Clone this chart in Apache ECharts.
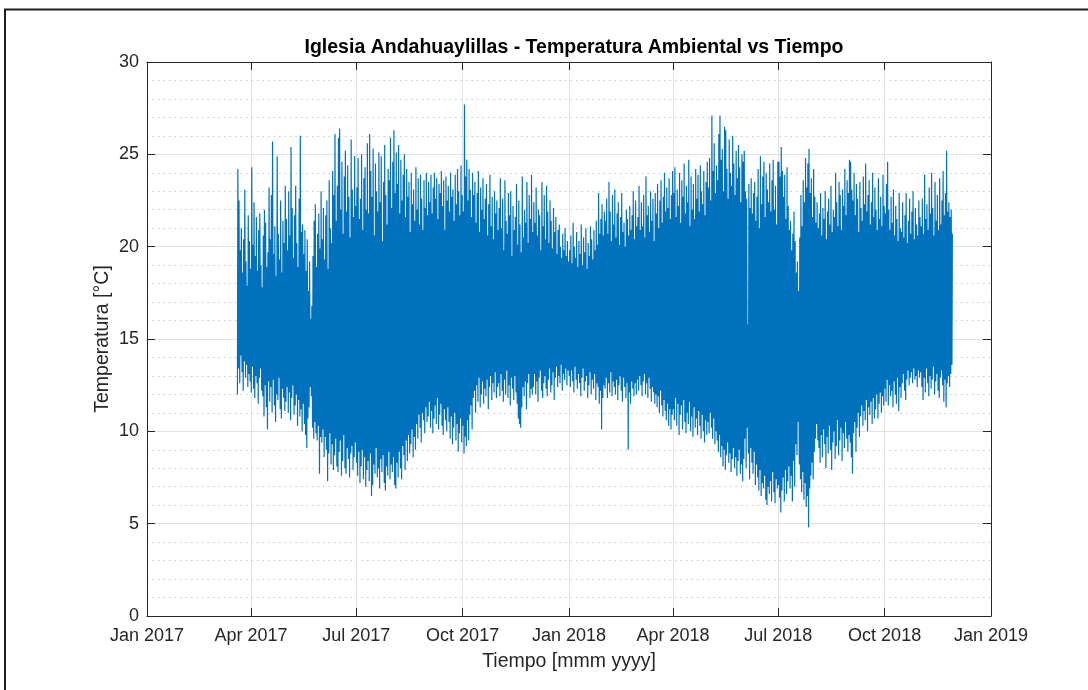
<!DOCTYPE html>
<html><head><meta charset="utf-8">
<script src="https://cdn.jsdelivr.net/npm/echarts@6/dist/echarts.min.js"></script>
<style>html,body{margin:0;padding:0;background:#fff}#c{width:1088px;height:690px}</style>
</head><body><div id="c"></div>
<script>
const titleText = 'Iglesia Andahuaylillas - Temperatura Ambiental vs Tiempo';
const xName = 'Tiempo [mmm yyyy]';
const yName = 'Temperatura [°C]';
const xTickDates = ['2017-01-01','2017-04-01','2017-07-01','2017-10-01','2018-01-01','2018-04-01','2018-07-01','2018-10-01','2019-01-01'];
const monthNames = ['Jan','Feb','Mar','Apr','May','Jun','Jul','Aug','Sep','Oct','Nov','Dec'];
const yTicks = [0,5,10,15,20,25,30];
const startDate = '2017-03-20';

// Daily maximum temperature (°C), 2017-03-20 .. 2017-12-31, one line per month
const tmax2017 = [
24.2,22.5,19.8,21.0,18.6,20.4,23.1,19.2,17.9,21.7,20.3,18.8,
24.3,20.1,22.4,19.5,21.6,18.7,20.9,21.8,19.0,17.8,20.6,22.0,21.3,18.9,19.7,23.2,20.4,22.8,25.7,19.6,21.1,18.4,24.9,20.7,19.3,22.5,18.6,21.4,20.2,23.3,
21.5,19.8,23.0,20.6,25.4,22.1,19.4,21.7,23.3,20.2,18.9,22.6,26.0,20.8,21.2,19.6,20.9,18.7,20.4,17.6,19.2,16.1,16.8,19.5,21.4,22.3,18.9,20.7,21.8,19.9,23.0,
20.4,22.1,19.3,21.7,22.5,18.8,23.6,21.0,20.2,24.1,22.8,26.1,21.4,23.3,25.9,26.4,22.0,24.6,20.7,23.8,25.2,21.9,24.4,22.7,20.5,25.8,23.1,21.6,24.9,22.2,
23.2,24.8,21.5,22.6,25.0,20.9,23.7,24.3,22.0,25.6,21.8,26.1,24.1,22.7,25.3,20.6,24.5,23.0,21.9,25.1,22.4,24.9,20.3,23.5,25.5,22.8,21.2,24.2,23.6,25.9,22.1,
24.6,26.3,22.9,25.1,23.4,25.5,21.8,24.7,22.5,23.9,25.0,21.6,24.2,22.7,23.5,20.8,24.0,22.3,23.1,21.4,24.3,22.0,23.7,21.2,23.9,22.6,20.9,23.6,22.1,24.0,21.7,
23.5,22.4,23.9,21.8,23.2,24.0,22.6,23.7,21.5,23.4,22.9,24.1,22.2,23.6,20.9,23.8,22.5,23.3,21.9,24.0,22.7,23.1,21.4,23.9,22.3,24.2,23.0,21.7,24.4,22.8,
21.9,27.7,23.8,24.7,22.5,24.2,23.1,21.6,24.0,22.8,23.5,21.3,22.9,24.1,20.8,23.2,22.0,23.7,21.5,22.6,23.4,20.6,22.3,23.9,21.1,22.7,20.4,23.0,21.8,22.5,20.9,
22.1,23.7,21.0,22.6,19.8,23.6,21.4,20.7,22.9,21.7,23.0,19.5,22.2,20.9,21.6,23.4,20.1,22.5,21.2,19.7,23.8,20.5,22.0,21.3,23.5,20.2,22.8,21.5,23.9,20.8,
22.4,21.3,23.2,20.6,22.0,21.7,19.8,23.5,21.1,22.8,20.4,23.3,21.9,20.2,22.5,21.4,19.9,22.1,20.8,21.6,19.6,20.9,21.2,20.0,19.4,20.7,19.8,21.0,19.5,20.3,19.2
];
// Daily minimum temperature (°C), 2017-03-20 .. 2017-12-31
const tmin2017 = [
12.0,13.4,12.6,14.1,13.2,12.2,13.8,12.9,13.6,12.4,13.1,12.7,
12.1,13.5,12.3,11.8,13.0,12.6,11.5,12.9,13.4,12.2,11.9,10.8,12.5,11.3,10.1,12.7,11.6,12.4,11.0,12.8,11.4,10.5,12.0,11.7,12.9,11.2,10.7,12.3,11.8,11.1,
11.6,12.4,11.0,12.1,10.6,11.8,12.5,10.9,11.4,12.0,10.3,11.7,10.8,11.2,10.0,11.5,10.4,9.8,9.1,10.7,11.3,12.4,11.9,10.2,9.6,10.5,9.9,9.5,10.3,7.7,9.7,
9.4,10.1,8.6,9.7,9.0,7.3,8.8,9.9,8.2,9.3,7.9,8.7,9.6,8.1,7.8,8.9,9.5,7.6,8.4,9.8,8.0,7.7,9.1,8.5,7.5,8.8,9.2,7.9,8.6,9.4,
8.3,7.6,8.9,7.2,8.1,9.0,7.4,8.6,7.0,7.9,8.4,7.3,8.8,6.5,7.1,8.2,7.7,9.1,7.5,8.0,6.9,8.5,7.8,8.7,7.2,6.8,8.1,7.6,8.9,7.4,8.2,
7.8,8.6,7.1,6.9,8.3,7.5,8.9,8.0,7.4,9.2,8.7,7.9,9.5,8.4,9.8,8.8,9.3,10.1,8.6,9.7,9.0,10.4,9.6,10.9,10.2,9.4,11.0,10.6,9.9,11.3,10.5,
10.8,11.6,10.2,11.1,9.9,10.7,11.4,10.4,11.8,10.1,10.9,11.5,10.3,9.8,11.2,10.6,10.0,11.3,10.5,9.6,10.8,9.3,10.2,11.0,9.5,10.4,8.9,9.9,10.7,9.4,
10.3,8.8,9.7,9.2,10.6,9.5,10.9,11.4,10.1,11.8,12.2,11.0,12.5,11.6,12.9,11.3,12.0,12.7,11.5,12.3,11.9,12.8,11.2,12.4,13.0,11.7,12.6,12.1,13.2,11.8,12.4,
12.6,11.9,13.1,12.2,11.6,12.8,12.0,13.3,11.8,12.5,11.4,12.9,12.3,11.7,13.0,12.1,11.5,10.7,10.4,10.2,11.3,12.4,11.9,12.7,11.2,12.6,13.1,11.8,12.3,12.0,
12.4,13.1,12.0,12.7,11.6,12.9,13.3,12.2,11.8,12.6,13.0,12.3,11.9,12.8,13.4,12.1,12.5,13.2,11.7,12.9,13.5,12.4,13.0,12.6,13.6,12.2,13.1,12.8,13.4,12.5,13.3
];
// Daily maximum temperature (°C), 2018-01-01 .. 2018-11-28
const tmax2018 = [
19.8,20.6,19.1,21.3,20.0,19.4,20.8,18.9,20.3,19.6,21.2,19.0,20.5,19.7,21.0,18.8,20.2,19.5,21.1,20.4,19.3,20.9,19.8,21.4,20.1,22.9,20.7,21.5,22.3,20.6,21.9,
21.4,22.6,20.7,23.5,21.9,20.3,22.8,21.2,23.1,20.5,21.8,22.4,20.1,21.6,22.9,20.8,21.3,20.0,22.0,21.5,20.6,22.2,20.9,21.7,23.0,20.4,22.5,21.1,
21.6,23.3,20.9,22.4,21.1,22.8,20.5,23.8,21.7,22.2,20.8,23.0,21.4,22.6,20.3,22.9,21.8,23.4,21.0,22.5,23.6,21.3,22.7,24.0,21.9,23.2,22.1,23.7,21.5,22.8,24.1,
22.9,24.3,21.6,23.1,22.2,24.0,21.3,23.6,22.7,24.5,21.8,23.3,22.4,24.7,21.1,23.8,22.0,23.4,21.5,24.2,22.6,23.9,21.9,24.4,23.0,22.3,24.1,21.7,23.5,24.6,
23.2,24.8,22.5,27.1,24.1,25.6,22.9,24.4,23.6,26.1,27.1,24.7,25.3,23.0,26.5,26.3,24.2,22.6,25.8,24.0,23.3,26.0,24.5,22.8,25.2,23.7,25.5,24.3,22.4,25.0,24.6,
25.2,23.0,22.6,15.8,23.4,22.1,23.7,21.8,22.9,23.5,21.4,22.7,24.2,21.0,24.9,22.3,23.8,24.6,21.6,24.0,23.1,22.4,24.5,21.9,23.6,24.7,22.0,23.3,21.2,24.6,
24.6,23.8,25.4,24.1,22.7,23.9,21.5,24.3,22.2,20.9,21.4,19.8,20.7,21.9,20.3,18.6,19.2,17.6,20.5,22.8,21.1,23.6,22.4,24.8,23.2,24.5,25.3,22.9,23.7,21.6,24.2,
22.7,21.3,22.4,21.0,21.8,22.9,20.6,22.1,21.5,23.0,20.4,21.9,22.6,21.2,23.3,20.8,22.0,21.6,24.0,22.4,21.1,23.5,22.8,20.9,23.1,22.2,24.2,21.7,23.6,22.9,24.7,
24.6,23.1,22.5,24.0,21.7,23.4,22.6,20.8,23.5,22.1,21.4,23.8,22.3,24.5,21.9,22.8,23.6,21.2,22.4,24.0,21.6,23.2,22.0,20.9,23.7,21.5,22.7,21.1,23.9,22.2,
21.8,23.4,24.6,22.0,20.9,22.7,21.3,23.1,20.6,22.2,21.5,20.3,22.9,21.0,20.8,22.4,20.5,21.7,22.9,20.2,21.4,22.6,20.7,21.9,23.0,20.4,22.1,21.2,20.6,22.5,21.6,
21.1,22.6,20.7,23.9,21.5,22.3,20.9,23.2,21.8,24.0,22.1,20.6,23.5,21.4,22.8,20.9,23.7,21.2,22.5,24.1,21.7,22.9,25.2,21.9,22.4,21.6,22.0,20.7
];
// Daily minimum temperature (°C), 2018-01-01 .. 2018-11-28
const tmin2018 = [
13.0,12.4,13.3,12.7,12.1,13.5,12.8,12.3,13.1,12.6,11.9,12.9,13.4,12.2,12.7,13.0,11.8,12.5,13.2,12.0,12.8,12.3,13.1,11.7,12.6,12.4,11.5,12.2,10.1,11.8,12.5,
12.3,12.9,11.8,12.6,12.1,13.2,11.9,12.7,12.4,12.0,12.8,11.7,12.5,13.0,12.2,11.6,12.9,12.4,11.8,12.6,9.0,12.1,11.5,12.7,12.3,11.9,12.6,12.0,
12.8,12.2,13.0,12.5,11.9,12.7,13.1,12.0,12.6,11.8,12.9,12.3,11.6,12.4,12.1,11.5,12.0,11.3,11.9,11.0,12.2,11.4,10.8,11.7,11.1,10.6,11.5,10.3,11.2,10.1,10.9,
11.2,10.6,11.8,10.3,11.5,9.8,10.9,11.4,10.1,11.7,10.5,9.9,11.0,10.4,11.6,10.0,10.8,9.7,11.3,10.2,10.7,9.8,11.1,10.3,9.6,10.9,10.0,9.4,10.6,9.8,
10.5,9.9,11.0,10.2,9.6,10.7,9.3,10.0,9.5,8.9,9.8,8.6,9.2,8.1,9.0,7.9,8.7,9.4,8.3,8.8,7.8,8.5,9.1,8.0,8.6,7.6,8.4,9.0,7.7,8.2,7.3,
8.5,9.6,8.0,10.2,8.8,7.4,9.1,8.3,7.7,8.9,7.1,8.2,7.5,6.8,7.9,6.5,7.2,6.9,7.6,6.3,6.0,7.0,6.6,7.3,6.2,7.8,6.7,6.1,7.4,6.9,
7.1,6.4,5.6,6.8,7.5,6.2,7.9,6.6,7.3,8.1,6.9,7.6,6.2,8.4,7.0,9.3,8.7,10.5,8.2,7.4,6.7,7.8,6.3,7.2,5.9,6.5,4.8,6.9,7.6,8.3,7.4,
8.9,9.6,10.4,9.5,9.1,8.3,9.8,8.6,10.1,9.3,8.0,9.7,8.8,10.3,9.0,7.9,9.4,10.0,8.5,9.2,10.6,8.7,9.5,10.2,8.4,9.9,9.1,10.5,9.6,8.9,9.8,
9.4,8.6,7.7,9.9,10.5,8.9,10.2,11.0,9.7,10.8,11.4,10.3,11.1,10.6,11.7,10.0,11.3,10.9,11.6,10.4,11.8,10.7,11.2,12.0,10.7,11.5,12.1,11.0,11.9,11.4,
12.3,11.6,12.8,11.4,12.5,11.9,12.2,11.3,12.7,12.0,11.5,12.9,11.1,12.4,11.8,12.6,13.1,12.2,11.7,12.8,13.3,12.5,12.9,13.2,12.6,13.4,12.8,13.0,12.4,13.3,12.9,
13.2,12.4,11.7,12.9,12.1,13.4,12.6,11.9,13.0,12.3,12.8,13.5,12.0,12.7,13.1,12.2,11.8,12.9,13.3,12.5,11.6,12.8,11.3,12.6,13.0,12.4,13.1,13.6
];

const tmax = tmax2017.concat(tmax2018);
const tmin = tmin2017.concat(tmin2018);
const HOUR = 3600000, DAY = 24 * HOUR;
const t0 = Date.parse(startDate + 'T00:00:00Z');
const seriesData = [];
for (let i = 0; i < tmax.length; i++) {
  seriesData.push([t0 + i * DAY + 5 * HOUR, tmin[i]]);
  seriesData.push([t0 + i * DAY + 14 * HOUR, tmax[i]]);
}
const xTicks = xTickDates.map(d => Date.parse(d + 'T00:00:00Z'));
const fmtDate = v => { const d = new Date(v); return monthNames[d.getUTCMonth()] + ' ' + d.getUTCFullYear(); };

const FONT = "'Liberation Sans', Arial, Helvetica, sans-serif";
const TXT = '#262626';
const AXC = '#262626';

const chart = echarts.init(document.getElementById('c'), null, {renderer: 'canvas'});
chart.setOption({
  animation: false,
  backgroundColor: '#ffffff',
  title: {
    text: titleText,
    left: 569, top: 33, textAlign: 'center',
    textStyle: {fontFamily: FONT, fontSize: 19.5, fontWeight: 'bold', color: '#000'}
  },
  grid: {left: 147, right: 97, top: 62, bottom: 74, containLabel: false},
  xAxis: [{
    type: 'value', min: xTicks[0], max: xTicks[xTicks.length - 1],
    position: 'bottom',
    name: xName, nameLocation: 'middle', nameGap: 36, nameMoveOverlap: false,
    nameTextStyle: {fontFamily: FONT, fontSize: 19.5, color: TXT},
    axisLine: {show: true, onZero: false, lineStyle: {color: AXC, width: 1}},
    axisTick: {show: true, inside: true, length: 8, customValues: xTicks, lineStyle: {color: AXC}},
    axisLabel: {show: true, customValues: xTicks, formatter: fmtDate, margin: 11,
      fontFamily: FONT, fontSize: 18, color: TXT},
    splitLine: {show: true, lineStyle: {color: '#e1e1e1', width: 1}}
  }, {
    type: 'value', min: xTicks[0], max: xTicks[xTicks.length - 1],
    position: 'top',
    axisLine: {show: true, onZero: false, lineStyle: {color: AXC, width: 1}},
    axisTick: {show: true, inside: true, length: 8, customValues: xTicks, lineStyle: {color: AXC}},
    axisLabel: {show: false},
    splitLine: {show: false}
  }],
  yAxis: [{
    type: 'value', min: 0, max: 30, interval: 5,
    position: 'left',
    name: yName, nameLocation: 'middle', nameGap: 34, nameMoveOverlap: false,
    nameTextStyle: {fontFamily: FONT, fontSize: 19.5, color: TXT},
    axisLine: {show: true, onZero: false, lineStyle: {color: AXC, width: 1}},
    axisTick: {show: true, inside: true, length: 8, lineStyle: {color: AXC}},
    axisLabel: {show: true, margin: 8, fontFamily: FONT, fontSize: 18, color: TXT},
    splitLine: {show: true, lineStyle: {color: '#e1e1e1', width: 1}},
    minorTick: {show: false, splitNumber: 5},
    minorSplitLine: {show: true, lineStyle: {color: '#c6c6c6', width: 1, type: [1.5, 4]}}
  }, {
    type: 'value', min: 0, max: 30, interval: 5,
    position: 'right',
    axisLine: {show: true, onZero: false, lineStyle: {color: AXC, width: 1}},
    axisTick: {show: true, inside: true, length: 8, lineStyle: {color: AXC}},
    axisLabel: {show: false},
    splitLine: {show: false}
  }],
  graphic: [{
    type: 'polyline', silent: true, z: 100,
    shape: {points: [[5, 690], [5, 9.5], [1088, 9.5]]},
    style: {stroke: '#1f1f1f', lineWidth: 2, fill: null}
  }],
  series: [{
    type: 'line', xAxisIndex: 0, yAxisIndex: 0,
    data: seriesData, showSymbol: false, symbol: 'none',
    sampling: null, clip: true,
    lineStyle: {color: '#0072BD', width: 1.2},
    emphasis: {disabled: true}
  }]
});
</script></body></html>
